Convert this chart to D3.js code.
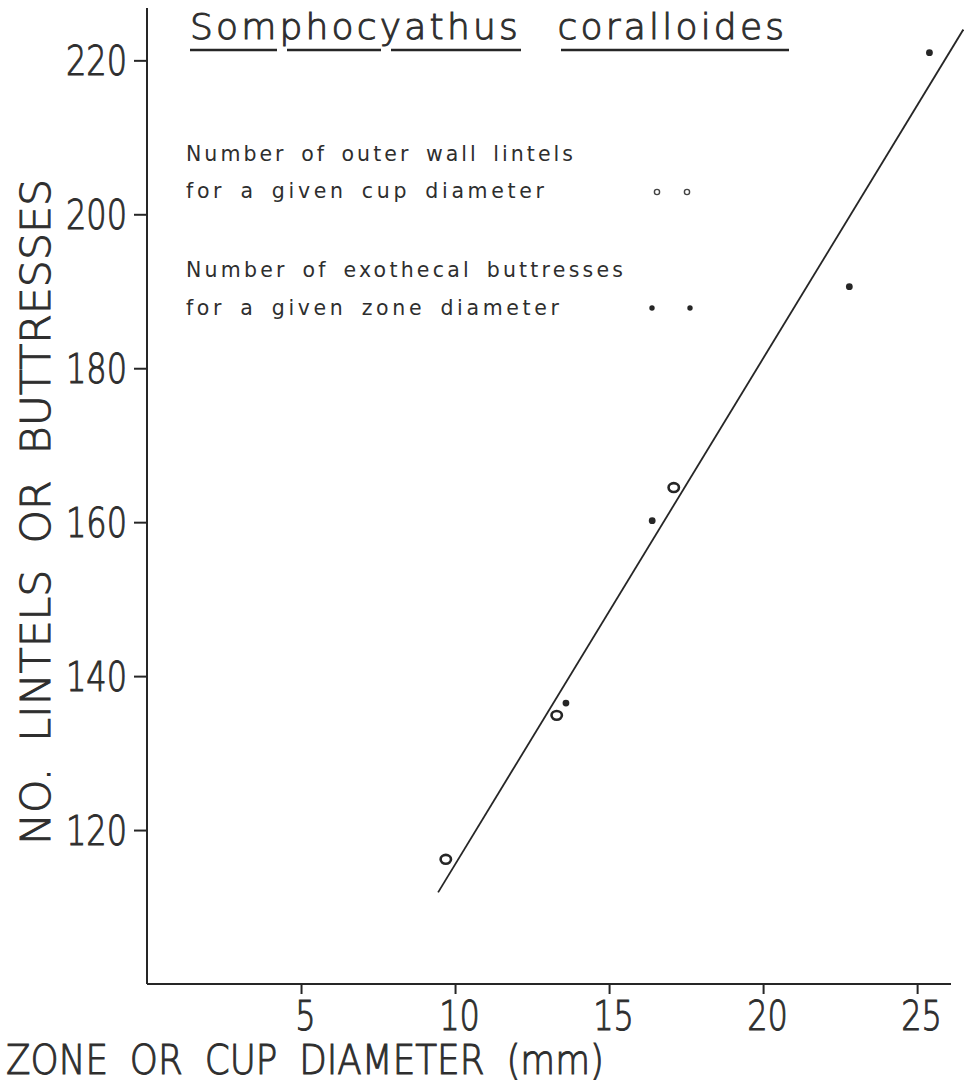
<!DOCTYPE html>
<html>
<head>
<meta charset="utf-8">
<script src="https://cdn.jsdelivr.net/npm/d3@7"></script>
<style>
  html, body { margin: 0; padding: 0; background: #fff; }
  svg { display: block; }
  text { fill: #2e2e2e; font-family: "DejaVu Sans", sans-serif; font-weight: 300; }
  .lettering { stroke: #2e2e2e; stroke-width: 1; }
  .legend-text { font-weight: 400; }
</style>
</head>
<body>
<svg id="chart" width="964" height="1086"></svg>
<script>
// Somphocyathus coralloides: counts of lintels / buttresses against diameter
const lintelDiameter = [9.7, 13.3, 17.1];        // cup diameter (mm)
const lintelCount    = [116.2, 134.9, 164.5];    // outer wall lintels
const buttressDiameter = [13.6, 16.4, 22.8, 25.4]; // zone diameter (mm)
const buttressCount    = [136.5, 160.2, 190.6, 221]; // exothecal buttresses
const fitDiameter = [9.45, 26.5];                // fitted line end points
const fitCount    = [111.9, 224.0];
const xTicks = [5, 10, 15, 20, 25];
const yTicks = [120, 140, 160, 180, 200, 220];

const titleWords = ["Somphocyathus", "coralloides"];
const legendLines = [
  ["Number of outer wall lintels", "for a given cup diameter"],
  ["Number of exothecal buttresses", "for a given zone diameter"]
];
const xTitle = "ZONE OR CUP DIAMETER (mm)";
const yTitle = "NO. LINTELS OR BUTTRESSES";

const svg = d3.select("#chart");
const ink = "#262626";

const x = d3.scaleLinear().domain([0, 26.1]).range([147, 951]);
const y = d3.scaleLinear().domain([100, 226.8]).range([984, 8]);

// squeeze a text element horizontally to a fraction of its natural width
function squeeze(sel, f) {
  sel.each(function () {
    const w = this.getComputedTextLength();
    d3.select(this).attr("textLength", w * f).attr("lengthAdjust", "spacingAndGlyphs");
  });
}

// y axis
const yAxis = svg.append("g")
  .attr("transform", `translate(${x(0)},0)`)
  .call(d3.axisLeft(y).tickValues(yTicks).tickSize(13).tickPadding(6).tickFormat(d3.format("d")));
yAxis.select(".domain").attr("d", `M0,${y(226.8)}V${y(100)}`).attr("stroke", ink).attr("stroke-width", 2);
yAxis.selectAll(".tick line").attr("stroke", ink).attr("stroke-width", 2);
yAxis.selectAll(".tick text")
  .attr("class", "lettering")
  .attr("font-size", 40).attr("dy", "0.36em").attr("x", -20)
  .style("font-family", "'DejaVu Sans', sans-serif").style("font-weight", 300).attr("fill", "#2e2e2e")
  .call(squeeze, 0.8);

// x axis
const xAxis = svg.append("g")
  .attr("transform", `translate(0,${y(100)})`)
  .call(d3.axisBottom(x).tickValues(xTicks).tickSize(10).tickFormat(d3.format("d")));
xAxis.select(".domain").attr("d", `M${x(0)},0H${x(26.1)}`).attr("stroke", ink).attr("stroke-width", 2);
xAxis.selectAll(".tick line").attr("stroke", ink).attr("stroke-width", 2);
xAxis.selectAll(".tick text")
  .attr("class", "lettering")
  .attr("font-size", 40).attr("y", 46).attr("dy", 0).attr("dx", 4)
  .style("font-family", "'DejaVu Sans', sans-serif").style("font-weight", 300).attr("fill", "#2e2e2e")
  .call(squeeze, 0.8);

// axis titles
svg.append("text")
  .attr("class", "lettering")
  .attr("x", 6).attr("y", 1074)
  .attr("font-size", 41)
  .attr("word-spacing", 12)
  .attr("textLength", 598).attr("lengthAdjust", "spacingAndGlyphs")
  .text(xTitle);

svg.append("text")
  .attr("class", "lettering")
  .attr("transform", "translate(50,512) rotate(-90)")
  .attr("text-anchor", "middle")
  .attr("font-size", 41)
  .attr("word-spacing", 12)
  .attr("textLength", 666).attr("lengthAdjust", "spacingAndGlyphs")
  .text(yTitle);

// title with underlined words
svg.append("text")
  .attr("class", "lettering")
  .attr("x", 190).attr("y", 39)
  .attr("font-size", 36)
  .attr("letter-spacing", 3.2)
  .attr("word-spacing", 22)
  .text(titleWords.join(" "));
const underlineSegs = [[190, 277], [287, 381], [391, 521], [561, 789]];
svg.append("g").selectAll("line").data(underlineSegs).join("line")
  .attr("x1", d => d[0]).attr("x2", d => d[1])
  .attr("y1", 50).attr("y2", 50)
  .attr("stroke", ink).attr("stroke-width", 2.4);

// legend
const legendBase = [[161, 198], [277, 315]];
const legendWidth = [[387, 358], [437, 373]];
legendLines.forEach((lines, i) => {
  lines.forEach((t, j) => {
    svg.append("text")
      .attr("class", "legend-text")
      .attr("x", 186).attr("y", legendBase[i][j])
      .attr("font-size", 20.5)
      .attr("word-spacing", 5)
      .attr("textLength", legendWidth[i][j]).attr("lengthAdjust", "spacing")
      .text(t);
  });
});
// legend keys
const legendOpenX = [657, 687];
const legendDotX = [652, 690];
svg.append("g").selectAll("circle").data(legendOpenX).join("circle")
  .attr("cx", d => d).attr("cy", 192).attr("r", 2.6)
  .attr("fill", "none").attr("stroke", "#444").attr("stroke-width", 1.4);
svg.append("g").selectAll("circle").data(legendDotX).join("circle")
  .attr("cx", d => d).attr("cy", 308).attr("r", 2.7)
  .attr("fill", ink);

// fitted line
svg.append("path")
  .datum(d3.zip(fitDiameter, fitCount))
  .attr("d", d3.line().x(d => x(d[0])).y(d => y(d[1])))
  .attr("stroke", ink).attr("stroke-width", 1.8).attr("fill", "none");

// lintels: open circles
svg.append("g").selectAll("ellipse").data(d3.zip(lintelDiameter, lintelCount)).join("ellipse")
  .attr("cx", d => x(d[0])).attr("cy", d => y(d[1]))
  .attr("rx", 5.2).attr("ry", 4.4)
  .attr("fill", "none").attr("stroke", ink).attr("stroke-width", 2.6);

// buttresses: filled dots
svg.append("g").selectAll("circle").data(d3.zip(buttressDiameter, buttressCount)).join("circle")
  .attr("cx", d => x(d[0])).attr("cy", d => y(d[1]))
  .attr("r", 3.4).attr("fill", ink);
</script>
</body>
</html>
